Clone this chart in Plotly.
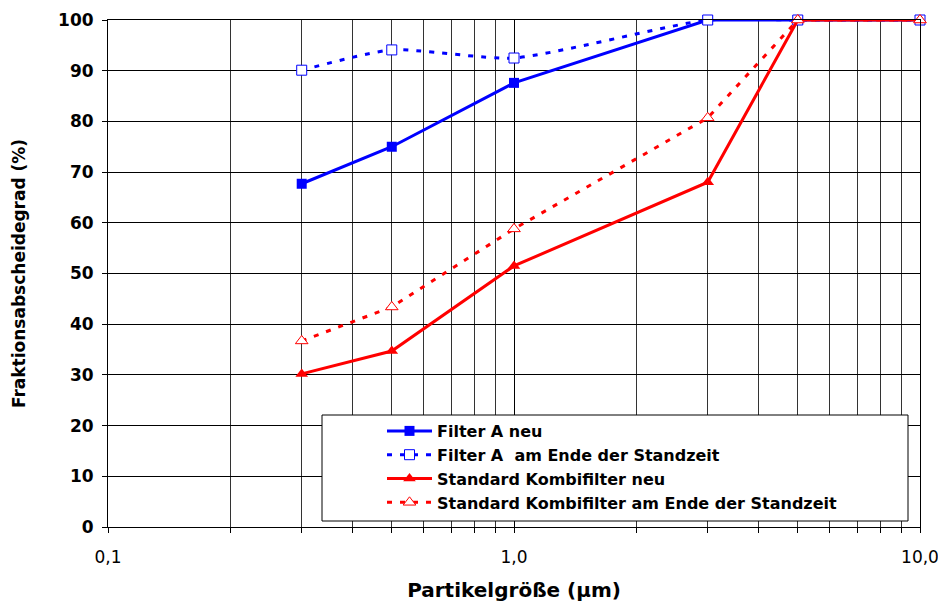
import plotly.graph_objects as go

x = [0.3, 0.5, 1.0, 3.0, 5.0, 10.0]
filter_a_neu = [67.7, 75.0, 87.6, 100, 100, 100]
filter_a_ende = [90.1, 94.1, 92.5, 100, 100, 100]
std_neu = [30.2, 34.7, 51.5, 68.0, 100, 100]
std_ende = [36.7, 43.4, 58.8, 80.7, 100, 100]

names = ["Filter A neu", "Filter A  am Ende der Standzeit",
         "Standard Kombifilter neu", "Standard Kombifilter am Ende der Standzeit"]

xtickvals = [0.1, 1, 10]
xticktext = ["0,1", "1,0", "10,0"]
minor_vals = [0.2, 0.3, 0.4, 0.5, 0.6, 0.7, 0.8, 0.9, 2, 3, 4, 5, 6, 7, 8, 9]

BLUE = "#0000FF"
RED = "#FF0000"
FONT = "DejaVu Sans, Arial, sans-serif"

fig = go.Figure()
fig.add_trace(go.Scatter(x=x, y=filter_a_neu, name=names[0], mode="lines+markers",
                         line=dict(color=BLUE, width=3), cliponaxis=False,
                         marker=dict(symbol="square", size=10, color=BLUE)))
fig.add_trace(go.Scatter(x=x, y=filter_a_ende, name=names[1], mode="lines+markers",
                         line=dict(color=BLUE, width=3, dash="5px,8px", shape="spline", smoothing=0.6),
                         cliponaxis=False,
                         marker=dict(symbol="square", size=10, color="white",
                                     line=dict(color=BLUE, width=1))))
fig.add_trace(go.Scatter(x=x, y=std_neu, name=names[2], mode="lines+markers",
                         line=dict(color=RED, width=3), cliponaxis=False,
                         marker=dict(symbol="triangle-up", size=11, color=RED)))
fig.add_trace(go.Scatter(x=x, y=std_ende, name=names[3], mode="lines+markers",
                         line=dict(color=RED, width=3, dash="5px,8px"), cliponaxis=False,
                         marker=dict(symbol="triangle-up", size=11, color="white",
                                     line=dict(color=RED, width=1))))

# target plot area in page pixels: x 108..920, y 20..527 (body margin removed below)
PL, PR, PT, PB = 108, 920, 20, 527
W, H = 938, 602
L, T = PL, PT
R = W - PR
B = H - PB
pw, ph = PR - PL, PB - PT

def px_x(p):
    return (p - PL) / pw

def px_y(p):
    return (PB - p) / ph

fig.add_shape(type="rect", xref="paper", yref="paper",
              x0=px_x(322), x1=px_x(908), y0=px_y(521), y1=px_y(415),
              fillcolor="white", line=dict(color="black", width=1), layer="above")

fig.update_layout(
    width=W, height=H,
    margin=dict(l=L, r=R, t=T, b=B),
    plot_bgcolor="white", paper_bgcolor="white",
    font=dict(family=FONT, color="black", size=16),
    showlegend=True,
    legend=dict(x=px_x(382), y=px_y(414), xanchor="left", yanchor="top",
                bgcolor="rgba(0,0,0,0)", borderwidth=0, itemwidth=45,
                font=dict(family=FONT, size=16, color="black")),
    xaxis=dict(type="log", range=[-1, 1], tickvals=xtickvals, ticktext=xticktext,
               automargin=False, ticklabelstandoff=10, ticklabeloverflow="allow",
               showgrid=True, gridcolor="black", gridwidth=1,
               ticks="outside", ticklen=5, tickcolor="black",
               showline=True, linecolor="black", linewidth=1, mirror=True,
               tickfont=dict(family=FONT, size=17, color="black"),
               minor=dict(tickvals=minor_vals, showgrid=True, gridcolor="#333333", gridwidth=1,
                          ticks="outside", ticklen=5, tickcolor="black"),
               title=dict(text="<b>Partikelgröße (µm)</b>", font=dict(family=FONT, size=20), standoff=18),
               zeroline=False),
    yaxis=dict(range=[0, 100], dtick=10, showgrid=True, gridcolor="black", gridwidth=1,
               automargin=False, ticklabelstandoff=5,
               ticks="outside", ticklen=5, tickcolor="black",
               showline=True, linecolor="black", linewidth=1, mirror=True,
               tickfont=dict(family=FONT, size=17, color="black"),
               title=dict(text="<b>Fraktionsabscheidegrad (%)</b>", font=dict(family=FONT, size=17), standoff=28),
               zeroline=False),
)
fig.update_xaxes(tickprefix="<b>", ticksuffix="</b>")
fig.update_yaxes(tickprefix="<b>", ticksuffix="</b>")
for tr in fig.data:
    tr.name = "<b>" + tr.name + "</b>"

fig.write_html("out.html", config={"displayModeBar": False},
               post_script="document.body.style.margin='0';document.body.style.overflow='hidden';")
